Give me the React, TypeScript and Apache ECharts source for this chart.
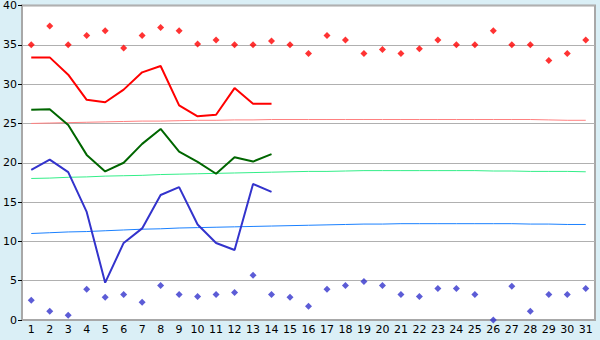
import React, { useEffect, useRef } from "react";
import * as echarts from "echarts";

const days = Array.from({ length: 31 }, (_, i) => String(i + 1));

const redLine = [33.4, 33.4, 31.2, 28.0, 27.7, 29.3, 31.5, 32.3, 27.3, 25.9, 26.1, 29.5, 27.5, 27.5];
const greenLine = [26.75, 26.8, 24.8, 21.0, 18.9, 20.0, 22.4, 24.3, 21.4, 20.1, 18.6, 20.7, 20.15, 21.1];
const blueLine = [19.1, 20.4, 18.8, 13.75, 4.75, 9.8, 11.65, 15.9, 16.9, 12.15, 9.8, 8.9, 17.3, 16.3];

const redPoints = [
  35.0, 37.4, 35.0, 36.2, 36.8, 34.6, 36.2, 37.2, 36.8, 35.1,
  35.6, 35.0, 35.0, 35.5, 35.0, 33.9, 36.2, 35.6, 33.9, 34.4,
  33.9, 34.5, 35.6, 35.0, 35.0, 36.8, 35.0, 35.0, 33.0, 33.9, 35.6,
];
const bluePoints = [
  2.5, 1.1, 0.6, 3.9, 2.9, 3.25, 2.25, 4.4, 3.25, 3.0,
  3.25, 3.5, 5.7, 3.25, 2.9, 1.75, 3.9, 4.4, 4.9, 4.4,
  3.25, 3.0, 4.0, 4.0, 3.25, 0.0, 4.3, 1.1, 3.25, 3.25, 4.0,
];

const pinkTrend = [
  25.0, 25.05, 25.1, 25.15, 25.2, 25.25, 25.3, 25.3, 25.35, 25.4,
  25.4, 25.45, 25.45, 25.5, 25.5, 25.5, 25.5, 25.5, 25.5, 25.5,
  25.5, 25.5, 25.5, 25.5, 25.5, 25.5, 25.5, 25.5, 25.45, 25.4, 25.4,
];
const greenTrend = [
  18.0, 18.05, 18.15, 18.2, 18.3, 18.35, 18.4, 18.5, 18.55, 18.6,
  18.65, 18.7, 18.75, 18.8, 18.85, 18.9, 18.9, 18.95, 19.0, 19.0,
  19.0, 19.0, 19.0, 19.0, 19.0, 18.95, 18.95, 18.9, 18.9, 18.9, 18.85,
];
const blueTrend = [
  11.0, 11.1, 11.2, 11.25, 11.35, 11.45, 11.55, 11.6, 11.7, 11.75,
  11.8, 11.85, 11.9, 11.95, 12.0, 12.05, 12.1, 12.15, 12.2, 12.2,
  12.25, 12.25, 12.25, 12.25, 12.25, 12.25, 12.25, 12.2, 12.2, 12.15, 12.15,
];

const yTicks = [0, 5, 10, 15, 20, 25, 30, 35, 40];

export default function App() {
  const ref = useRef<HTMLDivElement>(null);
  useEffect(() => {
    if (!ref.current) return;
    const chart = echarts.init(ref.current, undefined, { renderer: "svg" });
    const font = "DejaVu Sans";
    const line = (data: number[], color: string, width: number) => ({
      type: "line",
      data,
      symbol: "none",
      lineStyle: { color, width },
      silent: true,
      z: width > 1 ? 3 : 2,
    });
    const scatter = (data: number[], color: string) => ({
      type: "scatter",
      data,
      symbol: "diamond",
      symbolSize: 7,
      itemStyle: { color },
      silent: true,
      z: 4,
    });
    chart.setOption({
      animation: false,
      backgroundColor: "#DAEFF6",
      grid: {
        left: 21,
        right: 5,
        top: 5,
        bottom: 20,
        show: true,
        backgroundColor: "#FFFFFF",
        borderColor: "#A8A8A8",
        borderWidth: 2,
      },
      xAxis: {
        type: "category",
        data: days,
        boundaryGap: true,
        axisLine: { lineStyle: { color: "#A8A8A8", width: 2 } },
        axisTick: { alignWithLabel: true, length: 5, lineStyle: { color: "#000000" } },
        axisLabel: { color: "#000", fontFamily: font, fontSize: 11, margin: 4, interval: 0 },
      },
      yAxis: {
        type: "value",
        min: 0,
        max: 40,
        interval: 5,
        axisLine: { show: true, lineStyle: { color: "#A8A8A8", width: 2 } },
        axisTick: { show: true, length: 4, lineStyle: { color: "#000000" } },
        axisLabel: {
          color: "#000",
          fontFamily: font,
          fontSize: 11,
          margin: 5,
          formatter: (v: number) => (yTicks.includes(v) ? String(v) : ""),
        },
        splitLine: { lineStyle: { color: "#B0B0B0", width: 1 } },
      },
      series: [
        line(pinkTrend, "#FF8080", 1),
        line(greenTrend, "#33EE88", 1),
        line(blueTrend, "#1A80FF", 1),
        line(redLine, "#FF0000", 2),
        line(greenLine, "#006600", 2),
        line(blueLine, "#3333CC", 2),
        scatter(redPoints, "#FF0000"),
        scatter(bluePoints, "#3333CC"),
      ],
    });
    return () => chart.dispose();
  }, []);
  return <div ref={ref} style={{ width: 600, height: 340, position: "absolute", left: 0, top: 0 }} />;
}
